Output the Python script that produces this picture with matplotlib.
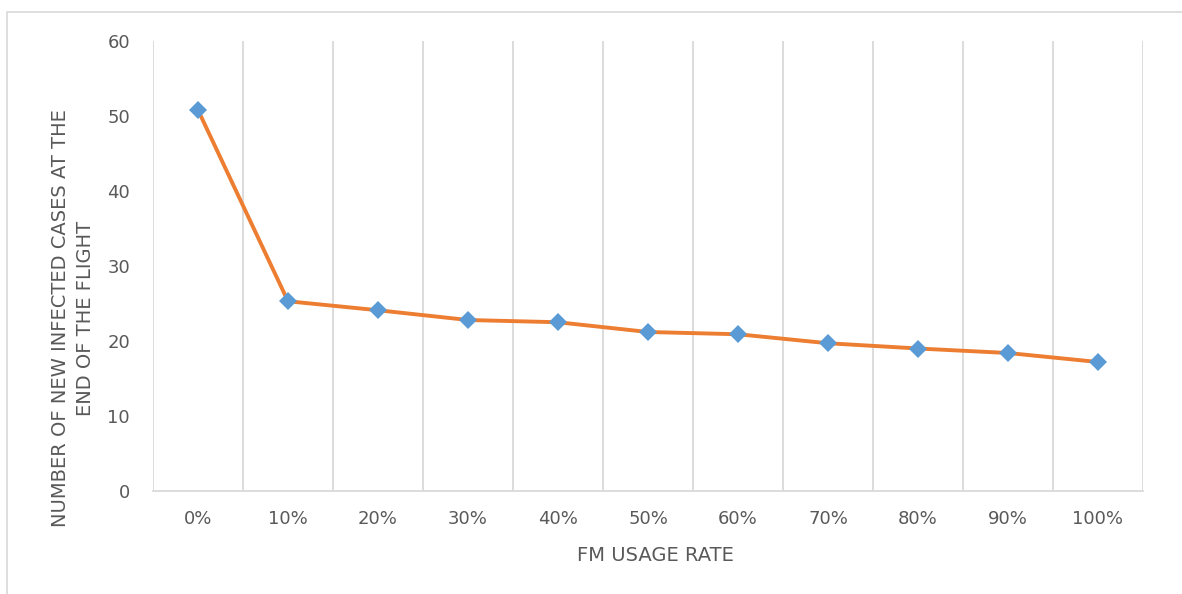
import numpy as np
import matplotlib.pyplot as plt
from matplotlib.patches import Rectangle

# fraction of passengers wearing face masks vs new infections at landing
usage_labels = ['0%', '10%', '20%', '30%', '40%', '50%', '60%', '70%', '80%', '90%', '100%']
new_cases = [50.8, 25.3, 24.1, 22.8, 22.5, 21.2, 20.9, 19.7, 19.0, 18.4, 17.2]

text_color = '#595959'
grid_color = '#d9d9d9'
plt.rcParams['font.family'] = ['DejaVu Sans']

fig = plt.figure(figsize=(11.82, 5.94), dpi=100)
ax = fig.add_axes([153/1182, 1 - 491/594, (1143 - 153)/1182, (491 - 41)/594])

# outer chart frame
fig.patches.append(Rectangle((7/1182, -0.05), 1.1, 1 - 12/594 + 0.05, transform=fig.transFigure,
                             fill=False, edgecolor=grid_color, linewidth=1.2))

x = np.arange(len(usage_labels))
ax.plot(x, new_cases, color='#ED7D31', linewidth=2.8, zorder=3)
ax.plot(x, new_cases, linestyle='none', marker='D', markersize=8.7,
        color='#5B9BD5', markeredgewidth=0, zorder=4)

ax.set_xlim(-0.5, len(usage_labels) - 0.5)
ax.set_ylim(0, 60)
ax.set_yticks(range(0, 61, 10))
ax.set_xticks(x)
ax.set_xticklabels(usage_labels)

# vertical gridlines between categories
ax.set_xticks(np.arange(-0.5, len(usage_labels)), minor=True)
ax.grid(True, which='minor', axis='x', color=grid_color, linewidth=1.3)
ax.grid(False, which='major')

for s in ['top', 'left', 'right']:
    ax.spines[s].set_visible(False)
ax.spines['bottom'].set_color(grid_color)
ax.spines['bottom'].set_linewidth(1.3)

ax.tick_params(axis='both', which='both', length=0, labelcolor=text_color, labelsize=13)
ax.tick_params(axis='x', pad=14)
ax.tick_params(axis='y', pad=16.5)

ax.set_xlabel('FM USAGE RATE', color=text_color, fontsize=14, va='center')
ax.xaxis.set_label_coords(0.5076, -0.143)
ax.set_ylabel('NUMBER OF NEW INFECTED CASES AT THE\nEND OF THE FLIGHT', color=text_color,
              fontsize=14, va='center', linespacing=1.45)
ax.yaxis.set_label_coords(-0.0808, 0.384)

fig.savefig('out.png', dpi=100)
